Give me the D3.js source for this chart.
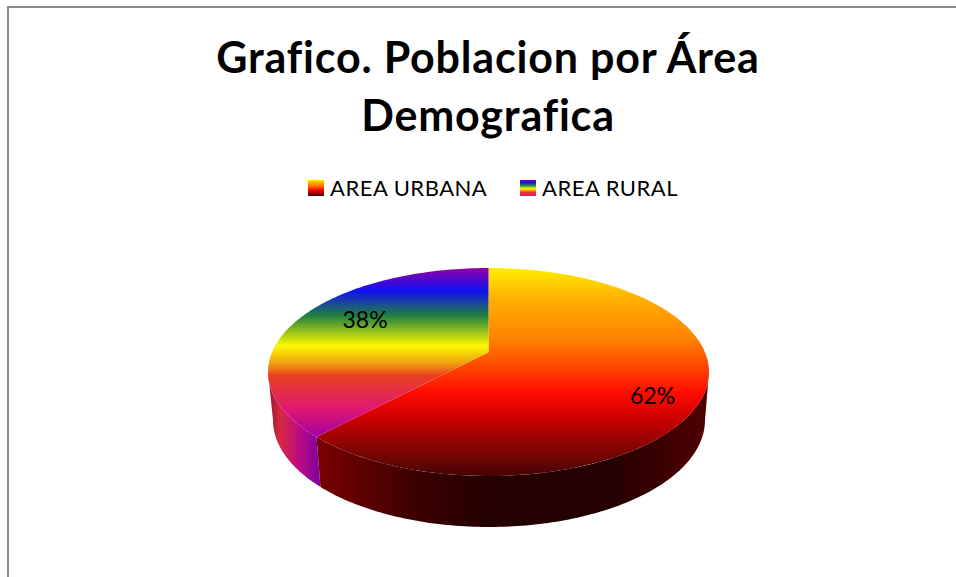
<!DOCTYPE html>
<html>
<head>
<meta charset="utf-8">
<script src="https://cdn.jsdelivr.net/npm/d3@7"></script>
<style>
html,body{margin:0;padding:0;background:#fff;overflow:hidden}
svg{display:block}
text{font-family:Lato,"Open Sans",sans-serif;fill:#000;font-variant-ligatures:none}
</style>
</head>
<body>
<svg id="c" width="956" height="577"></svg>
<script>
const titleLines = ["Grafico. Poblacion por Área", "Demografica"];
const categories = ["AREA URBANA", "AREA RURAL"];
const values = [62, 38];

const urbanTopStops = [[0,"#ffee00"],[0.15,"#ffb000"],[0.35,"#ff8000"],[0.49,"#ff4000"],[0.6,"#ff0c00"],[0.72,"#d00000"],[0.88,"#800404"],[1,"#480404"]];
const ruralTopStops = [[0,"#9400a8"],[0.11,"#1010f0"],[0.23,"#208040"],[0.375,"#fcf800"],[0.46,"#f0a010"],[0.52,"#e84020"],[0.68,"#e01870"],[0.81,"#a800a0"],[1,"#a000a0"]];
const urbanSideStops = [[0,"#7a0000"],[0.25,"#3c0000"],[0.45,"#240000"],[0.75,"#240000"],[1,"#500000"]];
const ruralSideStops = [[0,"#a01830"],[0.2,"#d82840"],[0.55,"#c00c80"],[1,"#7c00a0"]];

const svg = d3.select("#c");
const defs = svg.append("defs");
function gradient(id, stops, x1, y1, x2, y2){
  const g = defs.append("linearGradient").attr("id", id).attr("gradientUnits","userSpaceOnUse")
    .attr("x1",x1).attr("y1",y1).attr("x2",x2).attr("y2",y2);
  g.selectAll("stop").data(stops).join("stop")
    .attr("offset", d=>d[0]).attr("stop-color", d=>d[1]);
}
gradient("urbanTop", urbanTopStops, 0, 268, 0, 475);
gradient("ruralTop", ruralTopStops, 0, 268, 0, 475);
gradient("urbanSide", urbanSideStops, 318, 0, 707, 0);
gradient("ruralSide", ruralSideStops, 270, 0, 320, 0);
gradient("urbanKey", urbanTopStops, 0, 180, 0, 196);
gradient("ruralKey", ruralTopStops, 0, 180, 0, 203);

// frame
svg.append("path").attr("d","M8,577V7H956").attr("fill","none").attr("stroke","#8a8a8a").attr("stroke-width",2);

// title
svg.append("g").selectAll("text").data(titleLines).join("text")
  .attr("x",488).attr("y",(d,i)=>73+i*58).attr("text-anchor","middle")
  .attr("font-size",43).attr("font-weight",700).attr("letter-spacing",0.8).text(d=>d);

// legend
const keyX = [308, 520];
const legend = svg.append("g").selectAll("g").data(categories).join("g");
legend.append("rect").attr("x",(d,i)=>keyX[i]).attr("y",180).attr("width",16).attr("height",16)
  .attr("fill",(d,i)=>i?"url(#ruralKey)":"url(#urbanKey)");
legend.append("text").attr("x",(d,i)=>keyX[i]+22).attr("y",196).attr("font-size",22)
  .attr("letter-spacing",0.5).text(d=>d);

// pie geometry
const topX = d3.scaleLinear().domain([-1,1]).range([268,709]);
const topY = d3.scaleLinear().domain([-1,1]).range([268,476]);
const botX = d3.scaleLinear().domain([-1,1]).range([273,705]);
const botY = d3.scaleLinear().domain([-1,1]).range([313,527]);
const tilt = -0.19;
function project(angle){
  const u = Math.sin(angle), v = -Math.cos(angle), d = 1 + tilt*v;
  return [u*Math.sqrt(1-tilt*tilt)/d, (v+tilt)/d];
}
const paramOf = a => { const p = project(a); let t = Math.atan2(p[0], -p[1]); return t<0 ? t+2*Math.PI : t; };
const steps = (a,b) => d3.range(0,121).map(i=>a+(b-a)*i/120);
const onTop = t => [topX(Math.sin(t)), topY(-Math.cos(t))];
const onBot = t => [botX(Math.sin(t)), botY(-Math.cos(t))];
const line = d3.line();

const arcs = d3.pie().sort(null)(values);
const split = paramOf(arcs[0].endAngle);

// sides
const sideRanges = [[Math.PI/2, split], [split, 3*Math.PI/2]];
svg.append("g").selectAll("path").data(sideRanges).join("path")
  .attr("d", d => line([...steps(d[0],d[1]).map(onTop), ...steps(d[1],d[0]).map(onBot)])+"Z")
  .attr("fill",(d,i)=>i?"url(#ruralSide)":"url(#urbanSide)");

// top face
const vertex = [topX(0), topY(tilt)];
svg.append("g").selectAll("path").data(arcs).join("path")
  .attr("d", d => {
    const a = d.startAngle===0 ? 0 : paramOf(d.startAngle);
    const b = d.endAngle>=2*Math.PI-1e-9 ? 2*Math.PI : paramOf(d.endAngle);
    return line([vertex, ...steps(a,b).map(onTop)])+"Z";
  })
  .attr("fill",(d,i)=>i?"url(#ruralTop)":"url(#urbanTop)");

// data labels
const labelAnchor = [[0.744,0.232],[-0.56,-0.5]];
svg.append("g").selectAll("text").data(arcs).join("text")
  .attr("x",(d,i)=>topX(labelAnchor[i][0])).attr("y",(d,i)=>topY(labelAnchor[i][1])+8)
  .attr("text-anchor","middle").attr("font-size",23)
  .text(d=>d.value+"%");
</script>
</body>
</html>
